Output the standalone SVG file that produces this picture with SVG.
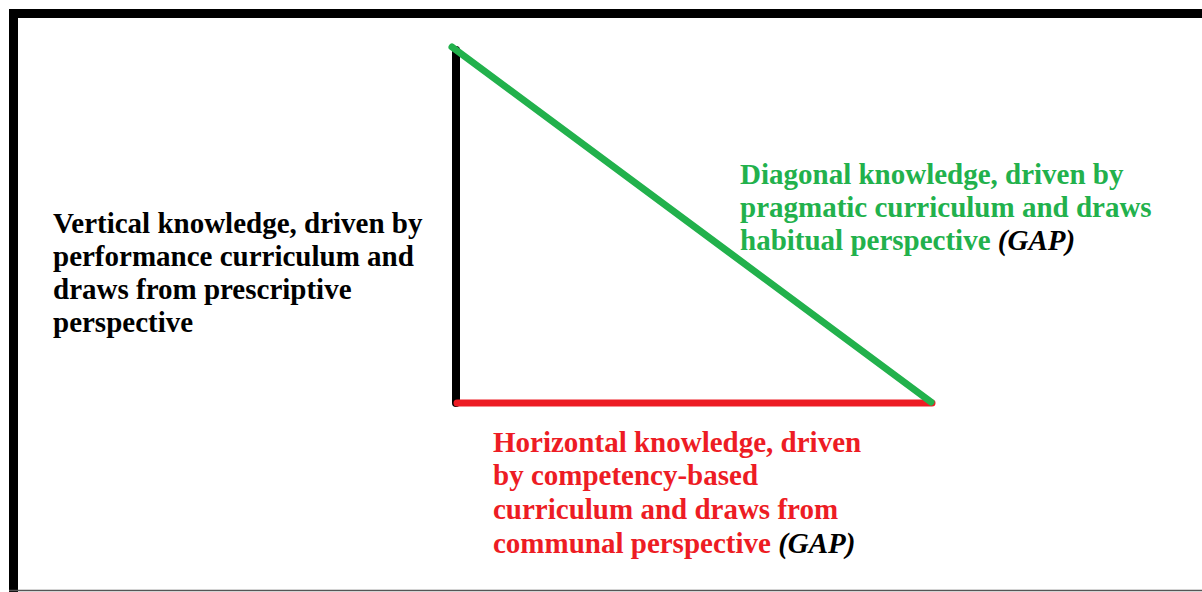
<svg xmlns="http://www.w3.org/2000/svg" width="1202" height="592" viewBox="0 0 1202 592">
<style>
text{font-family:"Liberation Serif","Times New Roman",serif;font-weight:bold;font-size:29px}
.k{fill:#000}
.g{fill:#22b14c}
.r{fill:#ed1c24}
.gap{fill:#000;font-style:italic}
</style>
<rect x="0" y="0" width="1202" height="592" fill="#fff"/>
<g id="frame">
<path d="M13.5,592 V13.5 H1202" fill="none" stroke="#000" stroke-width="9"/>
<line x1="9" y1="590.5" x2="1202" y2="590.5" stroke="#555" stroke-width="1.5"/>
</g>
<g id="connectors" stroke-linecap="round">
<line id="vertical" x1="456" y1="50" x2="456" y2="403" stroke="#000" stroke-width="8"/>
<line id="horizontal" x1="457" y1="403" x2="932" y2="403" stroke="#ed1c24" stroke-width="7"/>
<line id="diagonal" x1="452" y1="47" x2="931" y2="402" stroke="#22b14c" stroke-width="7"/>
</g>
<g id="vertical-label">
<text class="k" x="53" y="233">Vertical knowledge, driven by</text>
<text class="k" x="53" y="266">performance curriculum and</text>
<text class="k" x="53" y="299">draws from prescriptive</text>
<text class="k" x="53" y="332">perspective</text>
</g>
<g id="diagonal-label">
<text class="g" x="740" y="184">Diagonal knowledge, driven by</text>
<text class="g" x="740" y="217">pragmatic curriculum and draws</text>
<text class="g" x="740" y="250">habitual perspective <tspan class="gap">(GAP)</tspan></text>
</g>
<g id="horizontal-label">
<text class="r" x="493" y="452">Horizontal knowledge, driven</text>
<text class="r" x="493" y="485">by competency-based</text>
<text class="r" x="493" y="519">curriculum and draws from</text>
<text class="r" x="493" y="553">communal perspective <tspan class="gap">(GAP)</tspan></text>
</g>
</svg>
